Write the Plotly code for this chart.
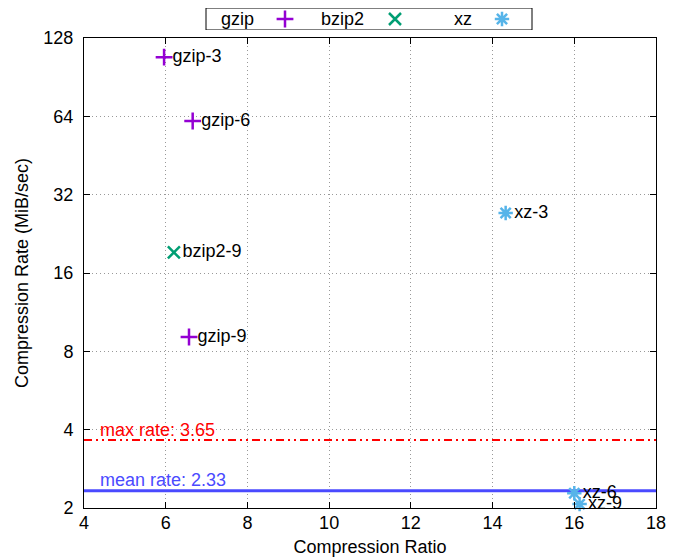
import math
import plotly.graph_objects as go

# ---- data ----
gzip_labels = ["gzip-3", "gzip-6", "gzip-9"]
gzip_ratio = [5.96, 6.66, 6.57]
gzip_rate = [108.0, 61.4, 9.08]

bzip2_labels = ["bzip2-9"]
bzip2_ratio = [6.20]
bzip2_rate = [19.2]

xz_labels = ["xz-3", "xz-6", "xz-9"]
xz_ratio = [14.32, 16.00, 16.13]
xz_rate = [27.2, 2.28, 2.07]

MAX_RATE = 3.65
MEAN_RATE = 2.33

X_MIN, X_MAX = 4, 18
Y_MIN, Y_MAX = 2, 128
y_ticks = [2, 4, 8, 16, 32, 64, 128]
x_ticks = [4, 6, 8, 10, 12, 14, 16, 18]

series_names = ["gzip", "bzip2", "xz"]

# ---- styles ----
FONT = "Liberation Sans, Arial, Helvetica, sans-serif"
FS = 18
C_GZIP = "#9400d3"
C_BZIP = "#009e73"
C_XZ = "#56b4e9"
C_MAX = "#ff0000"
C_MEAN = "#4a4aff"

fig = go.Figure()

def add_series(xs, ys, labels, color, symbol):
    fig.add_trace(go.Scatter(
        x=xs, y=ys, text=labels, mode="markers+text",
        textposition="middle right",
        textfont=dict(family=FONT, size=FS, color="black"),
        marker=dict(symbol=symbol, size=12, color=color,
                    line=dict(color=color, width=2.5)),
        showlegend=False, cliponaxis=False,
    ))

# reference lines
fig.add_trace(go.Scatter(x=[X_MIN, X_MAX], y=[MAX_RATE, MAX_RATE], mode="lines",
                         line=dict(color=C_MAX, width=2, dash="8px,4px,2px,4px,2px,4px"),
                         showlegend=False, hoverinfo="skip"))
fig.add_trace(go.Scatter(x=[X_MIN, X_MAX], y=[MEAN_RATE, MEAN_RATE], mode="lines",
                         line=dict(color=C_MEAN, width=3),
                         showlegend=False, hoverinfo="skip"))

add_series(gzip_ratio, gzip_rate, gzip_labels, C_GZIP, "cross-thin")
add_series(bzip2_ratio, bzip2_rate, bzip2_labels, C_BZIP, "x-thin")
add_series(xz_ratio, xz_rate, xz_labels, C_XZ, "asterisk")

# ---- custom legend (text left of marker, gnuplot style) ----
LEG_MARK_X = [285, 395, 502]
LEG_TEXT_X = [256, 366, 474]
leg_colors = [C_GZIP, C_BZIP, C_XZ]
leg_symbols = ["cross-thin", "x-thin", "asterisk"]
for name, mx, tx, col, sym in zip(series_names, LEG_MARK_X, LEG_TEXT_X, leg_colors, leg_symbols):
    fig.add_trace(go.Scatter(
        x=[mx], y=[0.5], mode="markers", xaxis="x2", yaxis="y2",
        marker=dict(symbol=sym, size=12, color=col, line=dict(color=col, width=2.5)),
        showlegend=False, hoverinfo="skip", cliponaxis=False))
    fig.add_annotation(x=tx, y=0.5, xref="x2", yref="y2", text=name,
                       showarrow=False, xanchor="right", yanchor="middle",
                       font=dict(family=FONT, size=FS, color="black"))
fig.add_shape(type="rect", xref="x2", yref="y2", x0=206, x1=532, y0=0, y1=1,
              line=dict(color="black", width=1))

# reference line labels
fig.add_annotation(x=4.34, y=math.log10(MAX_RATE), xref="x", yref="y",
                   text=f"max rate: {MAX_RATE}", showarrow=False,
                   xanchor="left", yanchor="bottom", yshift=-2,
                   font=dict(family=FONT, size=FS, color=C_MAX))
fig.add_annotation(x=4.34, y=math.log10(MEAN_RATE), xref="x", yref="y",
                   text=f"mean rate: {MEAN_RATE}", showarrow=False,
                   xanchor="left", yanchor="bottom", yshift=-1,
                   font=dict(family=FONT, size=FS, color=C_MEAN))

axis_common = dict(
    showline=True, linecolor="black", linewidth=1, mirror="ticks",
    ticks="inside", ticklen=6, tickcolor="black",
    showgrid=True, gridcolor="#999999", griddash="1px,3px", gridwidth=1,
    zeroline=False, automargin=False,
    tickfont=dict(family=FONT, size=FS, color="black"),
)

# the page body has an 8px margin; margins below compensate for it
fig.update_layout(
    width=680, height=560,
    paper_bgcolor="white", plot_bgcolor="white",
    margin=dict(l=76, r=32, t=0, b=60, autoexpand=False),
    font=dict(family=FONT, size=FS, color="black"),
    xaxis=dict(range=[X_MIN, X_MAX], tickvals=x_ticks, ticklabelstandoff=-2,
               title=dict(text="Compression Ratio", standoff=8,
                          font=dict(family=FONT, size=FS)),
               **axis_common),
    yaxis=dict(type="log", range=[math.log10(Y_MIN), math.log10(Y_MAX)],
               tickvals=y_ticks, ticktext=[str(v) for v in y_ticks],
               domain=[0, 470 / 500], ticklabelstandoff=6,
               title=dict(text="Compression Rate (MiB/sec)", standoff=10,
                          font=dict(family=FONT, size=FS)),
               **axis_common),
    xaxis2=dict(range=[84, 656], domain=[0, 1], anchor="y2", visible=False),
    yaxis2=dict(range=[0, 1], domain=[478 / 500, 1.0], anchor="x2", visible=False),
)

fig.write_html("out.html")
